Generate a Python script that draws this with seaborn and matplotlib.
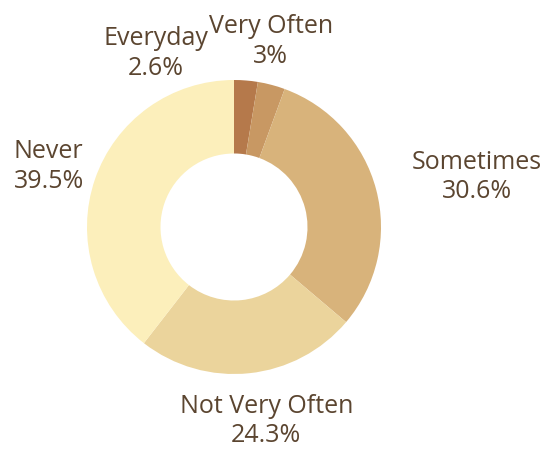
import matplotlib
matplotlib.use("Agg")
import matplotlib.pyplot as plt
import seaborn as sns

categories = ["Everyday", "Very Often", "Sometimes", "Not Very Often", "Never"]
values = [2.6, 3.0, 30.6, 24.3, 39.5]
value_labels = ["2.6%", "3%", "30.6%", "24.3%", "39.5%"]
colors = ["#b5794b", "#c89863", "#d8b37b", "#ebd49c", "#fcefbb"]

# label anchor offsets (data units, radius=1 circle)
label_xy = [(-0.53, 1.18), (0.25, 1.26), (1.655, 0.34), (0.22, -1.32), (-1.26, 0.41)]

sns.set_theme(style="white")
plt.rcParams['font.family'] = ['Open Sans', 'DejaVu Sans']

W, H = 545, 453
fig = plt.figure(figsize=(W / 100, H / 100), dpi=100)
ax = fig.add_axes([0, 0, 1, 1])
ax.axis("off")

cx, cy, R = 234, 227, 147
ax.pie(values, colors=sns.color_palette(colors), startangle=90, counterclock=False,
       radius=1.0, wedgeprops=dict(width=0.5, linewidth=0))
ax.set_xlim(-cx / R, (W - cx) / R)
ax.set_ylim(-(H - cy) / R, cy / R)
ax.set_aspect("equal")

for cat, lab, (x, y) in zip(categories, value_labels, label_xy):
    ax.text(x, y, f"{cat}\n{lab}", ha="center", va="center", fontsize=18,
            color="#5b4530", linespacing=1.25)

fig.savefig("out.png", dpi=100)
